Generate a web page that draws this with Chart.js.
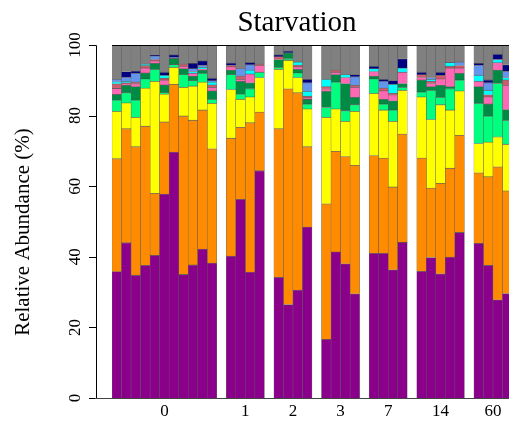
<!DOCTYPE html>
<html>
<head>
<meta charset="utf-8">
<script src="https://cdn.jsdelivr.net/npm/chart.js@4/dist/chart.umd.min.js"></script>
<style>
  html, body { margin: 0; padding: 0; background: #fff; overflow: hidden; }
  #wrap { width: 509px; height: 423px; overflow: hidden; }
  canvas { display: block; }
</style>
</head>
<body>
<div id="wrap"><canvas id="c" width="520" height="423"></canvas></div>
<script>
// Time points (days of starvation) and number of samples at each
const groupLabels = ['0', '1', '2', '3', '7', '14', '60'];
const groupSizes  = [11, 4, 4, 4, 4, 5, 4];
const yTicks = [0, 20, 40, 60, 80, 100];

// Relative abundance (%) of each taxon per sample, bottom layer first
const purple = [35.8,44.0,34.8,37.6,40.4,57.8,69.7,35.0,37.7,42.2,38.2, 40.2,56.3,35.7,64.4, 34.2,26.5,30.6,48.4, 16.6,41.4,38.0,29.5, 41.0,41.0,36.3,44.1, 35.9,39.8,35.2,39.9,46.9, 43.8,37.6,27.8,29.6];
const orange = [32.0,32.3,36.4,39.4,17.6,20.4,19.2,44.9,41.0,39.4,32.4, 33.4,20.4,42.3,16.6, 42.1,61.1,55.9,22.8, 38.4,28.5,30.4,36.4, 27.7,27.0,23.5,30.7, 32.1,19.7,25.6,25.2,27.5, 20.0,25.1,37.7,29.1];
const yellow = [13.4,7.3,8.3,10.8,31.7,7.9,4.8,8.1,9.7,7.9,12.9, 13.8,7.9,7.3,9.8, 16.8,8.1,4.3,10.7, 24.5,12.0,10.0,15.3, 17.6,13.6,18.6,12.4, 17.3,19.4,22.3,16.5,12.6, 8.3,9.8,8.5,13.2];
const springGreen = [3.2,2.9,4.9,2.6,3.4,0.4,0.8,3.6,1.5,2.5,1.1, 4.2,1.5,2.3,1.5, 0.6,0.4,1.3,1.4, 2.8,7.6,3.0,1.9, 4.1,1.7,3.2,0.8, 1.4,8.3,2.1,6.0,3.1, 11.4,7.4,15.1,6.8];
const darkGreen = [1.6,2.1,3.8,1.7,1.7,2.2,1.7,1.7,1.3,0.9,2.4, 1.3,3.6,1.7,0, 2.2,1.7,1.0,1.3, 4.6,2.1,7.7,2.1, 0.8,1.3,2.6,1.1, 3.4,1.0,3.4,0.6,1.9, 4.7,3.4,3.8,3.0];
const hotPink = [1.7,0.4,0.8,1.4,0.7,1.4,0,0.7,0.8,0.3,1.0, 0.9,0.6,2.5,1.9, 0,0,0.7,0.4, 0.7,0.7,1.7,2.8, 1.3,2.4,1.7,3.2, 0.7,0.9,1.8,5.3,1.5, 1.5,2.0,2.1,6.9];
const indianRed = [1.3,0.3,0.5,0.7,0.4,0.5,0,0.6,0,0,0.7, 0.4,0.9,0,0.4, 0.8,0,0.5,0.5, 0.6,0.6,0,0.6, 0,0.8,0.4,0, 0.8,0.6,1.0,0.5,0.7, 0,0.6,0,1.5];
const cyan = [0.6,0.4,0,0.4,0,0.8,0,0,0.5,0.5,0.8, 0,0,1.1,0, 0,0,0.9,1.4, 2.1,0,0.8,0, 0.8,0,2.6,1.2, 0,0.6,0,1.0,0, 1.7,1.3,0.9,0.7];
const cornflower = [0.7,1.1,2.5,0,1.0,0,0.3,0,0.8,0.5,0.4, 0,2.1,1.5,0, 0,0,0,2.4, 0,0,0,2.4, 0,1.9,0,0, 0,0.5,0,0,1.0, 2.8,2.1,0,1.7];
const navy = [0,1.7,0.6,0,0.2,0.9,0.7,0,1.5,1.3,0.7, 0.7,0,0.6,0, 0.5,0.5,0,1.0, 0,0,0,0.6, 0.7,0.6,1.0,2.6, 0.7,0,0.9,0,0, 0.6,0.8,1.5,1.9];
const other = [9.7,7.5,7.4,5.4,2.9,7.7,2.8,5.4,5.2,4.5,9.4, 5.1,6.7,5.0,5.4, 2.8,1.7,4.8,9.7, 9.7,7.1,8.4,8.4, 6.0,9.7,10.1,3.9, 7.7,9.2,7.7,5.0,4.8, 5.2,9.9,2.6,5.6];

const layers = [
  { data: purple,      color: '#8B008B' },
  { data: orange,      color: '#FF8C00' },
  { data: yellow,      color: '#FFFF00' },
  { data: springGreen, color: '#00FF7F' },
  { data: darkGreen,   color: '#008B45' },
  { data: hotPink,     color: '#FF69B4' },
  { data: indianRed,   color: '#CD5C6C' },
  { data: cyan,        color: '#00FFFF' },
  { data: cornflower,  color: '#6495ED' },
  { data: navy,        color: '#000080' },
  { data: other,       color: '#808080' }
];

// Lay the samples out in slots, with one empty slot between time points
const slotLabels = [];
const slotOfSample = [];
const groupSlots = [];
groupSizes.forEach((n, g) => {
  if (g > 0) slotLabels.push('');
  const first = slotLabels.length;
  for (let i = 0; i < n; i++) {
    slotOfSample.push(slotLabels.length);
    slotLabels.push(groupLabels[g] + '.' + (i + 1));
  }
  groupSlots.push([first, slotLabels.length - 1]);
});

function toSlots(values) {
  const out = new Array(slotLabels.length).fill(null);
  values.forEach((v, i) => { out[slotOfSample[i]] = v; });
  return out;
}

const datasets = layers.map(l => ({
  data: toSlots(l.data),
  backgroundColor: l.color,
  borderColor: 'rgba(60,60,60,0.75)',
  borderWidth: { top: 0.8, left: 0.5, right: 0.5, bottom: 0 },
  borderSkipped: false,
  categoryPercentage: 1.0,
  barPercentage: 1.0
}));

const serif = '"Liberation Serif", "DejaVu Serif", serif';

// Axes, tick labels and titles in base-graphics style
const axesPlugin = {
  id: 'baseAxes',
  afterDraw(chart) {
    const ctx = chart.ctx;
    const xs = chart.scales.x, ys = chart.scales.y;
    const y0 = ys.getPixelForValue(0), y100 = ys.getPixelForValue(100);
    const axisX = 96;
    ctx.save();
    ctx.strokeStyle = '#000';
    ctx.lineWidth = 1;

    // top rule
    ctx.beginPath();
    ctx.moveTo(xs.getPixelForValue(0) - xs.width / slotLabels.length / 2, Math.round(y100) + 0.5);
    ctx.lineTo(chart.width, Math.round(y100) + 0.5);
    ctx.stroke();

    // y axis
    ctx.beginPath();
    ctx.moveTo(axisX + 0.5, Math.round(y0) + 0.5);
    ctx.lineTo(axisX + 0.5, Math.round(y100) + 0.5);
    yTicks.forEach(t => {
      const py = Math.round(ys.getPixelForValue(t)) + 0.5;
      ctx.moveTo(axisX + 0.5, py);
      ctx.lineTo(axisX - 7, py);
    });
    ctx.stroke();

    // x axis line
    ctx.strokeStyle = '#444';
    ctx.beginPath();
    ctx.moveTo(95, Math.round(y0) + 0.5);
    ctx.lineTo(chart.width, Math.round(y0) + 0.5);
    ctx.stroke();

    ctx.fillStyle = '#000';
    ctx.font = '17px ' + serif;
    ctx.textAlign = 'center';
    ctx.textBaseline = 'middle';
    yTicks.forEach(t => {
      const py = ys.getPixelForValue(t);
      ctx.save();
      ctx.translate(76, py);
      ctx.rotate(-Math.PI / 2);
      ctx.fillText(String(t), 0, 0);
      ctx.restore();
    });

    groupSlots.forEach((s, g) => {
      const cx = (xs.getPixelForValue(s[0]) + xs.getPixelForValue(s[1])) / 2;
      ctx.fillText(groupLabels[g], cx, y0 + 14);
    });

    ctx.font = '29px ' + serif;
    ctx.textBaseline = 'alphabetic';
    ctx.fillText('Starvation', 297, 31);

    ctx.font = '21px ' + serif;
    ctx.textBaseline = 'middle';
    ctx.save();
    ctx.translate(23, 232);
    ctx.rotate(-Math.PI / 2);
    ctx.fillText('Relative Abundance (%)', 0, 0);
    ctx.restore();
    ctx.restore();
  }
};

new Chart(document.getElementById('c'), {
  type: 'bar',
  data: { labels: slotLabels, datasets },
  options: {
    responsive: false,
    animation: false,
    devicePixelRatio: 1,
    layout: { padding: { left: 112, right: 8, top: 45, bottom: 25 } },
    plugins: { legend: { display: false }, tooltip: { enabled: false }, title: { display: false } },
    scales: {
      x: { stacked: true, display: false },
      y: { stacked: true, display: false, min: 0, max: 100 }
    }
  },
  plugins: [axesPlugin]
});
</script>
</body>
</html>
